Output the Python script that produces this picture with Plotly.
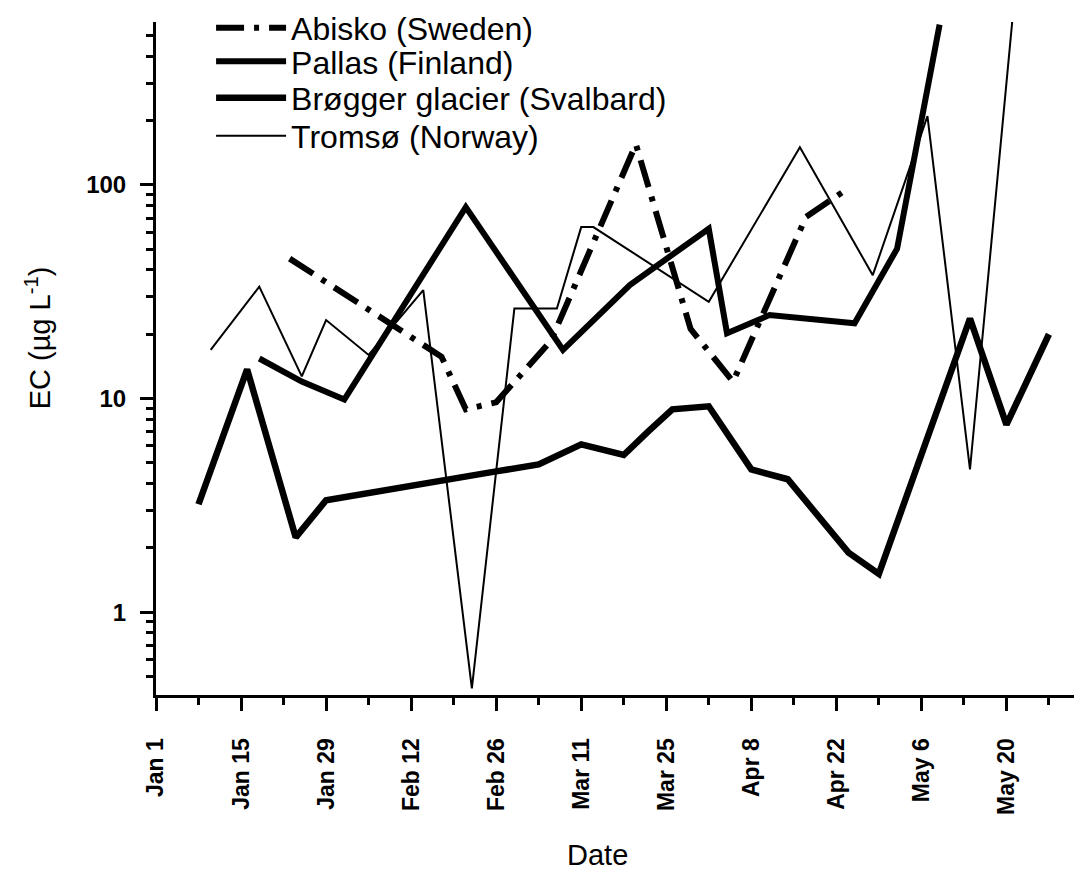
import plotly.graph_objects as go

# ---------------- data ----------------
abisko_dates = ["2008-01-23", "2008-02-17", "2008-02-21", "2008-02-26", "2008-03-06",
                "2008-03-20", "2008-03-29", "2008-04-05", "2008-04-17", "2008-04-23"]
abisko_ec = [45.2, 15.7, 8.9, 9.6, 18.6, 155, 21.2, 12.0, 70.8, 92.5]

pallas_dates = ["2008-01-18", "2008-01-25", "2008-02-01", "2008-02-21", "2008-03-08",
                "2008-03-19", "2008-04-01", "2008-04-04", "2008-04-11", "2008-04-25",
                "2008-05-02", "2008-05-09"]
pallas_ec = [15.4, 12.0, 9.9, 78.7, 16.9, 34.0, 62.4, 20.2, 24.6, 22.5, 50.3, 563]

brogger_dates = ["2008-01-08", "2008-01-16", "2008-01-24", "2008-01-29", "2008-02-26",
                 "2008-03-04", "2008-03-11", "2008-03-18", "2008-03-22", "2008-03-26",
                 "2008-04-01", "2008-04-08", "2008-04-14", "2008-04-24", "2008-04-29",
                 "2008-05-14", "2008-05-20", "2008-05-27"]
brogger_ec = [3.2, 13.7, 2.24, 3.34, 4.56, 4.92, 6.1, 5.44, 7.0, 8.9, 9.2, 4.66, 4.19,
              1.9, 1.51, 23.7, 7.55, 20.0]

tromso_dates = ["2008-01-10", "2008-01-18", "2008-01-25", "2008-01-29", "2008-02-05",
                "2008-02-14", "2008-02-22", "2008-02-29", "2008-03-07", "2008-03-11",
                "2008-03-13", "2008-04-01", "2008-04-16", "2008-04-28", "2008-05-07",
                "2008-05-14", "2008-05-21"]
tromso_ec = [16.9, 33.4, 12.7, 23.3, 16.0, 32.2, 0.44, 26.4, 26.4, 63.5, 63.5, 28.4,
             150, 37.8, 210, 4.66, 600]

series_names = ["Abisko (Sweden)", "Pallas (Finland)", "Brøgger glacier (Svalbard)",
                "Tromsø (Norway)"]

x_range = ["2008-01-01", "2008-05-31 03:00"]
y_range_log = [-0.388, 2.763]

FONT = "Liberation Sans, Arial, sans-serif"
DAY_MS = 86400000

fig = go.Figure()
fig.add_trace(go.Scatter(x=abisko_dates, y=abisko_ec, mode="lines", name=series_names[0],
                         legend="legend",
                         line=dict(color="black", width=6, dash="28px,10px,5px,10px")))
fig.add_trace(go.Scatter(x=pallas_dates, y=pallas_ec, mode="lines", name=series_names[1],
                         legend="legend2",
                         line=dict(color="black", width=6)))
fig.add_trace(go.Scatter(x=brogger_dates, y=brogger_ec, mode="lines", name=series_names[2],
                         legend="legend3",
                         line=dict(color="black", width=6.5)))
fig.add_trace(go.Scatter(x=tromso_dates, y=tromso_ec, mode="lines", name=series_names[3],
                         legend="legend4",
                         line=dict(color="black", width=2)))


def legend_box(ypos):
    return dict(x=0.06, y=ypos, xanchor="left", yanchor="middle",
                bgcolor="rgba(0,0,0,0)", borderwidth=0,
                font=dict(size=32, family=FONT, color="black"),
                itemwidth=70)


legend_rows = [0.9911, 0.9414, 0.8871, 0.8305]

fig.update_layout(
    width=1074, height=872,
    margin=dict(l=156, r=0, t=19, b=177),
    paper_bgcolor="white", plot_bgcolor="white",
    font=dict(family=FONT, color="black"),
    showlegend=True,
    legend=legend_box(legend_rows[0]),
    legend2=legend_box(legend_rows[1]),
    legend3=legend_box(legend_rows[2]),
    legend4=legend_box(legend_rows[3]),
    xaxis=dict(
        type="date", range=x_range,
        showgrid=False, zeroline=False,
        showline=True, linecolor="black", linewidth=3,
        ticks="outside", ticklen=13, tickwidth=3, tickcolor="black",
        tickmode="linear", tick0="2008-01-01", dtick=14 * DAY_MS,
        tickformat="%b %-d", tickangle=-90,
        tickfont=dict(size=23, family=FONT, color="black", weight="bold"),
        ticklabelstandoff=18,
        minor=dict(ticks="outside", ticklen=7, tickwidth=3, tickcolor="black",
                   tick0="2008-01-08", dtick=14 * DAY_MS, showgrid=False),
    ),
    yaxis=dict(
        type="log", range=y_range_log,
        showgrid=False, zeroline=False,
        showline=True, linecolor="black", linewidth=3,
        ticks="outside", ticklen=13, tickwidth=3, tickcolor="black",
        tickmode="linear", tick0=0, dtick=1,
        tickfont=dict(size=24, family=FONT, color="black", weight="bold"),
        ticklabelstandoff=9,
        minor=dict(ticks="outside", ticklen=7, tickwidth=3, tickcolor="black",
                   dtick="D1", showgrid=False),
    ),
    annotations=[
        dict(text="Date", xref="paper", yref="paper", x=0.4804, y=-0.238,
             xanchor="center", yanchor="middle", showarrow=False,
             font=dict(size=29, family=FONT, color="black")),
        dict(text="EC (µg L<sup>-1</sup>)", xref="paper", yref="paper", x=-0.1285, y=0.53,
             xanchor="center", yanchor="middle", showarrow=False, textangle=-90,
             font=dict(size=29, family=FONT, color="black")),
    ],
)

fig.write_html("out.html")
